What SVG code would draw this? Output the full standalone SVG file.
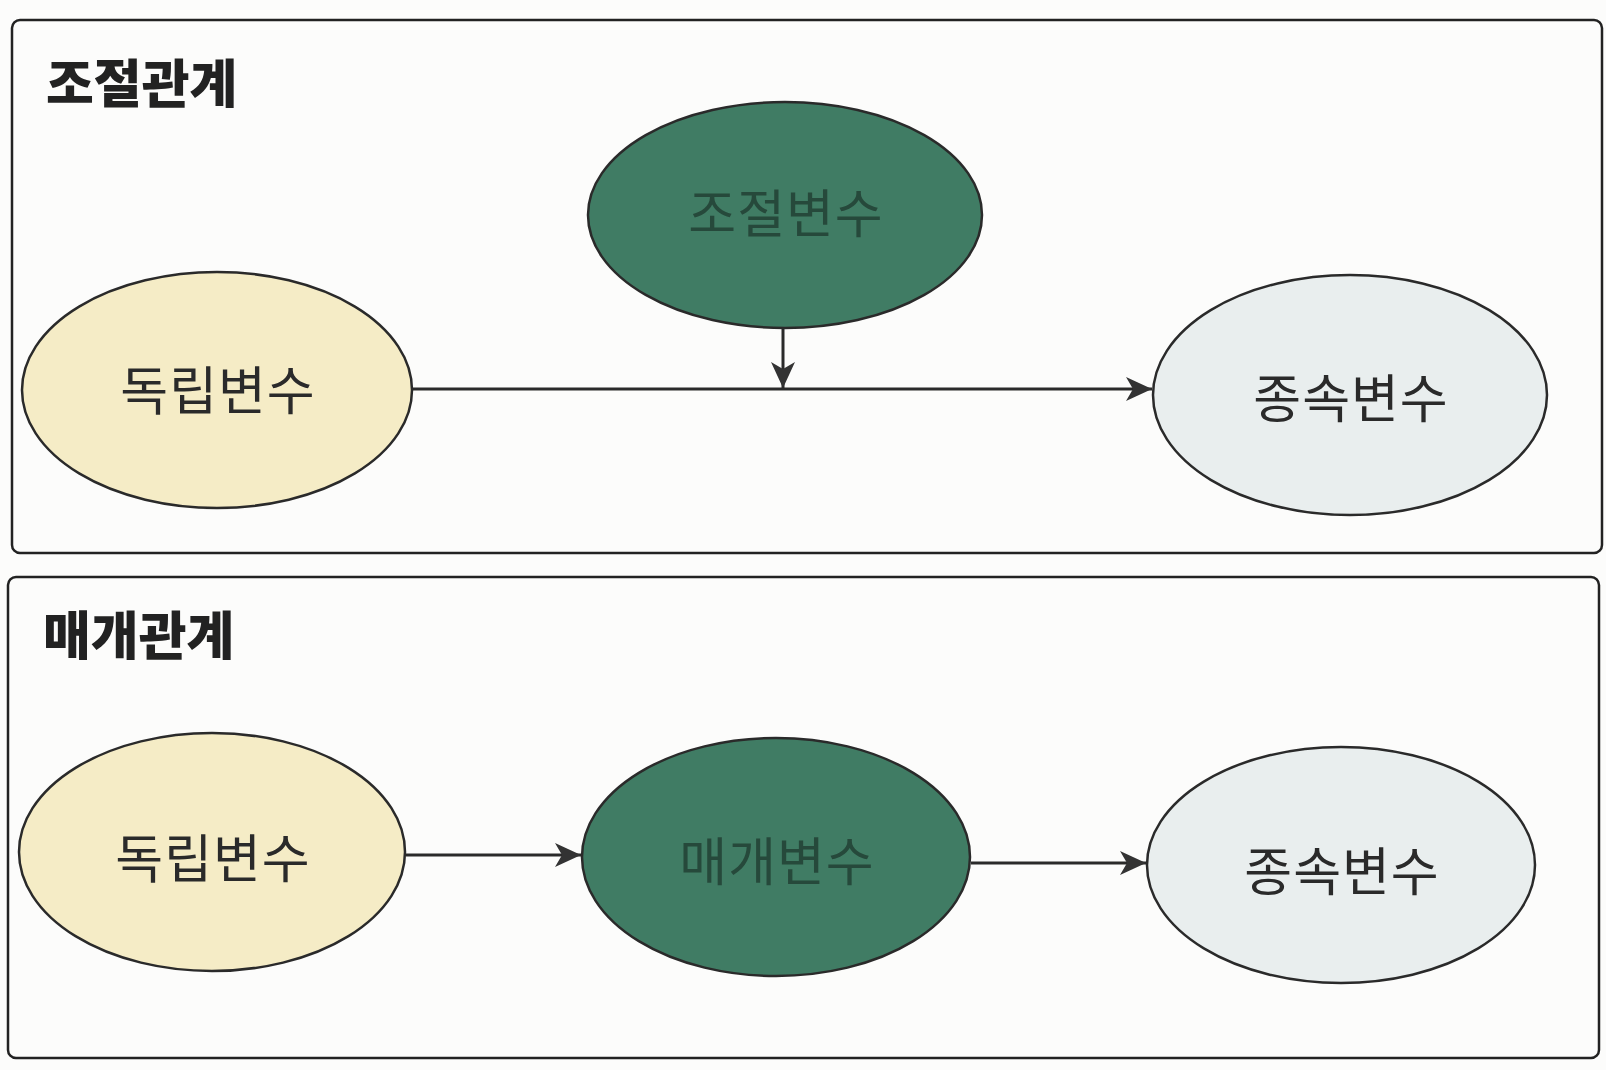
<svg xmlns="http://www.w3.org/2000/svg" width="1606" height="1070" viewBox="0 0 1606 1070">
<style>
.box{fill:none;stroke:#222;stroke-width:2.5}
.title{font-family:"Noto Sans CJK KR","Noto Sans",sans-serif;font-weight:900;font-size:52px;fill:#222}
.node{stroke:#2a2a2a;stroke-width:2.5}
.lbl{font-family:"Noto Sans CJK KR","Noto Sans",sans-serif;font-size:52px;fill:#2a2a2a;text-anchor:middle;letter-spacing:1px}
.ind{fill:#F5ECC6}
.mid{fill:#407C64}
.dep{fill:#E9EEEE}
.lblg{fill:#26493B}
.edge{stroke:#2a2a2a;stroke-width:3;fill:none;marker-end:url(#arr)}
</style>
<defs>
<marker id="arr" markerUnits="userSpaceOnUse" markerWidth="30" markerHeight="30" viewBox="-28 -15 30 30" refX="0" refY="0" orient="auto">
<path d="M-26,-12 L0,0 L-26,12 L-19,0 Z" fill="#333"/>
</marker>
</defs>
<rect width="1606" height="1070" fill="#FCFCFB"/>
<g id="panel-moderation">
<rect class="box" x="12" y="20" width="1590" height="533" rx="8"/>
<text class="title" x="46" y="103">조절관계</text>
</g>
<g id="panel-mediation">
<rect class="box" x="8" y="577" width="1591" height="481" rx="8"/>
<text class="title" x="43" y="655">매개관계</text>
</g>
<g id="connectors">
<line class="edge" x1="412" y1="389" x2="1152" y2="389"/>
<line class="edge" x1="783" y1="328" x2="783" y2="388"/>
<line class="edge" x1="406" y1="855" x2="581" y2="855"/>
<line class="edge" x1="971" y1="863" x2="1146" y2="863"/>
</g>
<g id="n-top-ind">
<ellipse class="node ind" cx="217" cy="390" rx="195" ry="118"/>
<text class="lbl" x="218" y="410">독립변수</text>
</g>
<g id="n-top-mod">
<ellipse class="node mid" cx="785" cy="215" rx="197" ry="113"/>
<text class="lbl lblg" x="786" y="233">조절변수</text>
</g>
<g id="n-top-dep">
<ellipse class="node dep" cx="1350" cy="395" rx="197" ry="120"/>
<text class="lbl" x="1351" y="418">종속변수</text>
</g>
<g id="n-bot-ind">
<ellipse class="node ind" cx="212" cy="852" rx="193" ry="119"/>
<text class="lbl" x="213" y="878">독립변수</text>
</g>
<g id="n-bot-med">
<ellipse class="node mid" cx="776" cy="857" rx="194" ry="119"/>
<text class="lbl lblg" x="777" y="881">매개변수</text>
</g>
<g id="n-bot-dep">
<ellipse class="node dep" cx="1341" cy="865" rx="194" ry="118"/>
<text class="lbl" x="1342" y="891">종속변수</text>
</g>
</svg>
